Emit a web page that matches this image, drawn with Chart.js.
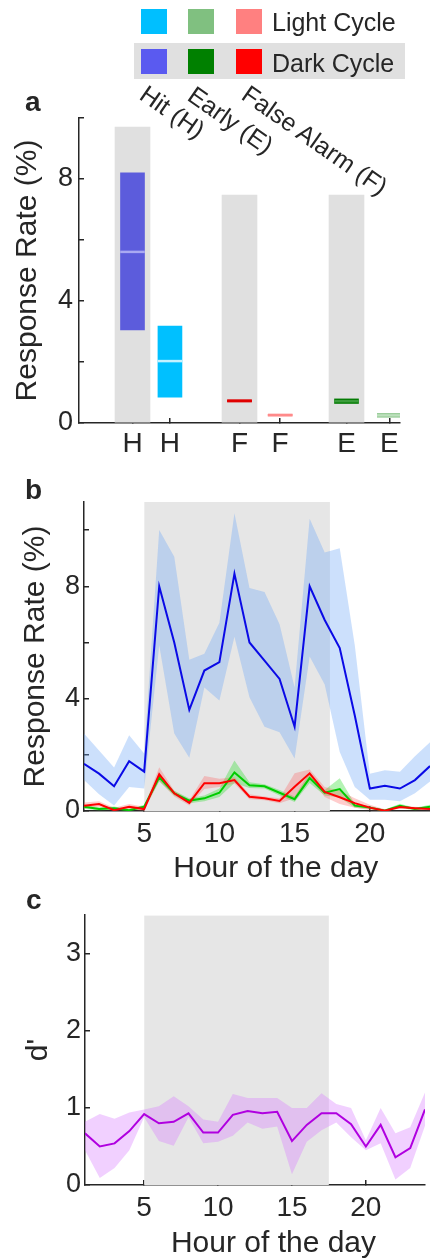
<!DOCTYPE html>
<html>
<head>
<meta charset="utf-8">
<script src="https://cdn.jsdelivr.net/npm/chart.js@4.4.1/dist/chart.umd.min.js"></script>
<style>
  body { margin: 0; width: 430px; height: 1259px; overflow: hidden; background: #fff; position: relative;
         font-family: "Liberation Sans", Arial, sans-serif; color: #262626; }
  canvas { position: absolute; left: 0; }
  .sq { position: absolute; width: 26px; height: 25px; }
  .lbl { position: absolute; font-size: 25px; line-height: 25px; white-space: nowrap; }
  .panel { position: absolute; font-weight: bold; font-size: 28px; line-height: 28px; }
  .rot { position: absolute; font-size: 25px; line-height: 25px; white-space: nowrap;
         transform-origin: 0 0; transform: rotate(35deg); }
</style>
</head>
<body>
<canvas id="ca" width="430" height="470" style="top:0"></canvas>
<canvas id="cb" width="430" height="420" style="top:470px"></canvas>
<canvas id="cc" width="430" height="369" style="top:890px"></canvas>

<!-- legend -->
<div style="position:absolute;left:134px;top:43px;width:271px;height:36px;background:#e0e0e0"></div>
<div class="sq" style="left:141px;top:9px;background:#00bfff"></div>
<div class="sq" style="left:188px;top:9px;background:#80c080"></div>
<div class="sq" style="left:236px;top:9px;background:#ff8080"></div>
<div class="lbl" style="left:272px;top:10px">Light Cycle</div>
<div class="sq" style="left:141px;top:49px;background:#5a5af0"></div>
<div class="sq" style="left:188px;top:49px;background:#008000"></div>
<div class="sq" style="left:236px;top:49px;background:#ff0000"></div>
<div class="lbl" style="left:272px;top:51px">Dark Cycle</div>

<!-- rotated category names -->
<div class="rot" style="left:150px;top:81px">Hit (H)</div>
<div class="rot" style="left:198px;top:82px">Early (E)</div>
<div class="rot" style="left:252px;top:81px">False Alarm (F)</div>

<!-- panel letters -->
<div class="panel" style="left:25px;top:88px">a</div>
<div class="panel" style="left:25px;top:476px">b</div>
<div class="panel" style="left:26px;top:886px">c</div>

<script>
// panel a : boxes (position on the x axis, low / high / median)
const boxPos = [5, 8.5, 15, 18.8, 25, 29];
const boxTickLabels = ['H', 'H', 'F', 'F', 'E', 'E'];
const boxLow = [3.05, 0.85, 0.69, 0.23, 0.64, 0.19];
const boxHigh = [8.2, 3.18, 0.76, 0.29, 0.79, 0.31];
const boxMedian = [5.61, 2.03, 0.725, 0.26, 0.715, 0.25];
const darkPos = [5, 15, 25];
const darkTop = [9.7, 7.47, 7.47];
const yTicksA = [0, 2, 4, 6, 8, 10];
const yLabelsA = ['0', '', '4', '', '8', ''];

// panel b : hourly response rates
const hours = [1, 2, 3, 4, 5, 6, 7, 8, 9, 10, 11, 12, 13, 14, 15, 16, 17, 18, 19, 20, 21, 22, 23, 24];
const hit = [1.68, 1.33, 0.88, 1.77, 1.4, 8.0, 6.0, 3.6, 5.0, 5.3, 8.45, 6.0, 5.35, 4.7, 3.0, 8.0, 6.8, 5.8, 3.4, 0.8, 0.9, 0.8, 1.1, 1.6];
const hitUp = [2.76, 2.15, 1.55, 2.7, 2.05, 10.0, 9.05, 5.38, 5.6, 6.7, 10.6, 7.94, 7.8, 6.65, 4.4, 10.4, 9.2, 9.35, 5.9, 1.33, 1.45, 1.4, 1.95, 2.45];
const hitLo = [1.1, 0.6, 0.2, 0.85, 0.8, 5.9, 2.76, 1.9, 4.4, 3.93, 6.2, 4.05, 3.0, 2.8, 1.87, 5.5, 4.5, 2.1, 0.85, 0.4, 0.4, 0.35, 0.63, 1.05];
const fa = [0.19, 0.25, 0.03, 0.15, 0.07, 1.31, 0.63, 0.29, 0.99, 0.99, 1.1, 0.51, 0.45, 0.36, 0.86, 1.34, 0.68, 0.49, 0.28, 0.12, 0.01, 0.14, 0.1, 0.07];
const faUp = [0.3, 0.35, 0.12, 0.25, 0.15, 1.56, 0.72, 0.38, 1.25, 1.15, 1.2, 0.6, 0.52, 0.45, 1.34, 1.48, 0.85, 0.72, 0.45, 0.22, 0.06, 0.2, 0.15, 0.12];
const faLo = [0.08, 0.15, 0, 0.07, 0, 1.08, 0.52, 0.2, 0.78, 0.85, 0.98, 0.42, 0.38, 0.28, 0.45, 1.18, 0.5, 0.25, 0.12, 0.04, 0, 0.08, 0.05, 0.03];
const early = [0.15, 0.07, 0.1, 0.03, 0.15, 1.2, 0.63, 0.37, 0.45, 0.65, 1.37, 0.92, 0.88, 0.65, 0.42, 1.17, 0.65, 0.78, 0.19, 0.12, 0.01, 0.19, 0.07, 0.15];
const earlyUp = [0.22, 0.13, 0.16, 0.08, 0.22, 1.32, 0.72, 0.45, 0.55, 0.8, 1.8, 1.02, 0.95, 0.75, 0.52, 1.36, 0.75, 1.17, 0.26, 0.18, 0.05, 0.26, 0.12, 0.22];
const earlyLo = [0.08, 0.02, 0.05, 0, 0.08, 1.05, 0.55, 0.28, 0.35, 0.5, 1.0, 0.82, 0.8, 0.55, 0.32, 1.0, 0.55, 0.48, 0.12, 0.06, 0, 0.12, 0.03, 0.08];
const yTicksB = [0, 2, 4, 6, 8, 10];
const yLabelsB = ['0', '', '4', '', '8', ''];

// panel c : d'
const dprime = [0.67, 0.5, 0.54, 0.7, 0.92, 0.8, 0.82, 0.93, 0.68, 0.68, 0.91, 0.96, 0.93, 0.95, 0.57, 0.78, 0.93, 0.93, 0.79, 0.5, 0.78, 0.36, 0.48, 0.98];
const dprimeUp = [0.82, 0.92, 0.86, 0.94, 0.98, 1.02, 1.15, 1.02, 0.85, 0.82, 1.18, 1.13, 1.13, 1.13, 1.0, 1.0, 1.19, 1.05, 1.0, 0.58, 1.0, 0.67, 0.75, 1.2];
const dprimeLo = [0.45, 0.09, 0.22, 0.45, 0.88, 0.57, 0.51, 0.88, 0.54, 0.56, 0.64, 0.81, 0.73, 0.76, 0.14, 0.56, 0.71, 0.81, 0.62, 0.45, 0.54, 0.07, 0.22, 0.77];
const yTicksC = [0, 1, 2, 3];
const yLabelsC = ['0', '1', '2', '3'];

const xTicksHours = [5, 10, 15, 20];
const darkPhaseB = [5, 17.35];
const darkPhaseC = [5, 17.5];

const ink = '#262626';
const fontFamily = '"Liberation Sans", Arial, sans-serif';
Chart.defaults.font.family = fontFamily;
Chart.defaults.color = ink;

function inward() {
    return { drawOnChartArea: false, drawTicks: true, tickLength: -5, color: ink, lineWidth: 1.5, offset: false };
}
function pts(vals) {
    return vals.map((v, i) => ({ x: hours[i], y: v }));
}
function shade(span, top) {
    return {
        data: span.map(x => ({ x: x, y: top })),
        fill: 'origin', backgroundColor: '#e6e6e6', borderWidth: 0, pointRadius: 0, order: 20
    };
}

// x title drawn at a value of the x scale
const hourTitle = {
    id: 'hourTitle',
    afterDraw(chart, args, opts) {
        const ctx = chart.ctx;
        const x = chart.scales.x;
        ctx.save();
        ctx.font = '30px ' + fontFamily;
        ctx.fillStyle = ink;
        ctx.textAlign = 'center';
        ctx.textBaseline = 'alphabetic';
        ctx.fillText(opts.text, x.getPixelForValue(opts.at), x.bottom - opts.lift);
        ctx.restore();
    }
};

// ---------- panel a ----------
new Chart(document.getElementById('ca'), {
    type: 'bar',
    data: {
        datasets: [
            {
                data: boxPos.map((x, i) => ({ x: x, y: [boxMedian[i] - 0.03, boxMedian[i] + 0.03] })),
                backgroundColor: ['#a9a9f2', '#c4f1ff', '#e00000', '#ff8a8a', '#3c9c3c', '#bde0bd'],
                barThickness: 24, order: 0
            },
            {
                data: boxPos.map((x, i) => ({ x: x, y: [boxLow[i], boxHigh[i]] })),
                backgroundColor: ['#5c5cdc', '#00c0ff', '#e00000', '#ff8a8a', '#007a00', '#80c080'],
                barThickness: 24, order: 1
            },
            {
                data: darkPos.map((x, i) => ({ x: x, y: [0, darkTop[i]] })),
                backgroundColor: '#e0e0e0',
                barThickness: 35, order: 2
            }
        ]
    },
    options: {
        responsive: false, animation: false, events: [],
        datasets: { bar: { grouped: false, borderWidth: 0 } },
        layout: { padding: { top: 118, right: 30, left: 0, bottom: 0 } },
        plugins: { legend: { display: false }, tooltip: { enabled: false } },
        scales: {
            x: {
                type: 'linear', min: 0, max: 30, offset: false,
                afterBuildTicks: s => { s.ticks = boxPos.map(v => ({ value: v })); },
                afterFit: s => { s.height = 47; },
                ticks: { autoSkip: false, maxRotation: 0, padding: 9, font: { size: 28 },
                         callback: (v, i) => boxTickLabels[i] },
                grid: inward(),
                border: { color: ink, width: 1.5 }
            },
            y: {
                min: 0, max: 10,
                afterBuildTicks: s => { s.ticks = yTicksA.map(v => ({ value: v })); },
                afterFit: s => { s.width = 79; },
                ticks: { autoSkip: false, padding: 11, font: { size: 27 }, callback: (v, i) => yLabelsA[i] },
                grid: inward(),
                border: { color: ink, width: 1.5 },
                title: { display: true, text: 'Response Rate (%)', font: { size: 30 }, padding: { top: 10, bottom: 0 } }
            }
        }
    }
});

// ---------- panel b ----------
new Chart(document.getElementById('cb'), {
    type: 'line',
    data: {
        datasets: [
            { data: pts(hit), borderColor: '#0a0ae6', borderWidth: 2, pointRadius: 0, fill: false, order: 0 },
            { data: pts(fa), borderColor: '#ff0000', borderWidth: 2, pointRadius: 0, fill: false, order: 1 },
            { data: pts(early), borderColor: '#00cc00', borderWidth: 2, pointRadius: 0, fill: false, order: 2 },
            { data: pts(faLo), borderWidth: 0, pointRadius: 0, fill: false, order: 10 },
            { data: pts(faUp), borderWidth: 0, pointRadius: 0, fill: 3, backgroundColor: 'rgba(255,90,90,0.3)', order: 3 },
            { data: pts(earlyLo), borderWidth: 0, pointRadius: 0, fill: false, order: 10 },
            { data: pts(earlyUp), borderWidth: 0, pointRadius: 0, fill: 5, backgroundColor: 'rgba(40,220,40,0.35)', order: 4 },
            { data: pts(hitLo), borderWidth: 0, pointRadius: 0, fill: false, order: 10 },
            { data: pts(hitUp), borderWidth: 0, pointRadius: 0, fill: 7, backgroundColor: 'rgba(110,165,245,0.35)', order: 5 },
            shade(darkPhaseB, 11)
        ]
    },
    options: {
        responsive: false, animation: false, events: [],
        layout: { padding: { top: 32, right: 0, left: 0, bottom: 0 } },
        elements: { line: { tension: 0 } },
        plugins: { legend: { display: false }, tooltip: { enabled: false },
                   hourTitle: { text: 'Hour of the day', at: 13.75, lift: 13.5 } },
        scales: {
            x: {
                type: 'linear', min: 1, max: 24,
                afterBuildTicks: s => { s.ticks = xTicksHours.map(v => ({ value: v })); },
                afterFit: s => { s.height = 79; },
                ticks: { autoSkip: false, maxRotation: 0, padding: 11, font: { size: 28 } },
                grid: inward(),
                border: { color: ink, width: 1.5 }
            },
            y: {
                min: 0, max: 11,
                afterBuildTicks: s => { s.ticks = yTicksB.map(v => ({ value: v })); },
                afterFit: s => { s.width = 84; },
                ticks: { autoSkip: false, padding: 9, font: { size: 27 }, callback: (v, i) => yLabelsB[i] },
                grid: inward(),
                border: { color: ink, width: 1.5 },
                title: { display: true, text: 'Response Rate (%)', font: { size: 30 }, padding: { top: 18, bottom: 0 } }
            }
        }
    },
    plugins: [hourTitle]
});

// ---------- panel c ----------
new Chart(document.getElementById('cc'), {
    type: 'line',
    data: {
        datasets: [
            { data: pts(dprime), borderColor: '#b000e0', borderWidth: 2, pointRadius: 0, fill: false, order: 0 },
            { data: pts(dprimeLo), borderWidth: 0, pointRadius: 0, fill: false, order: 10 },
            { data: pts(dprimeUp), borderWidth: 0, pointRadius: 0, fill: 1, backgroundColor: 'rgba(215,120,255,0.35)', order: 1 },
            shade(darkPhaseC, 3.5)
        ]
    },
    options: {
        responsive: false, animation: false, events: [],
        layout: { padding: { top: 22, right: 5, left: 0, bottom: 0 } },
        elements: { line: { tension: 0 } },
        plugins: { legend: { display: false }, tooltip: { enabled: false },
                   hourTitle: { text: 'Hour of the day', at: 13.75, lift: 7.5 } },
        scales: {
            x: {
                type: 'linear', min: 1, max: 24,
                afterBuildTicks: s => { s.ticks = xTicksHours.map(v => ({ value: v })); },
                afterFit: s => { s.height = 74; },
                ticks: { autoSkip: false, maxRotation: 0, padding: 11, font: { size: 28 } },
                grid: inward(),
                border: { color: ink, width: 1.5 }
            },
            y: {
                min: 0, max: 3.5,
                afterBuildTicks: s => { s.ticks = yTicksC.map(v => ({ value: v })); },
                afterFit: s => { s.width = 85; },
                ticks: { autoSkip: false, padding: 9, font: { size: 27 }, callback: (v, i) => yLabelsC[i] },
                grid: inward(),
                border: { color: ink, width: 1.5 },
                title: { display: true, text: "d'", font: { size: 30 }, padding: { top: 21, bottom: 0 } }
            }
        }
    },
    plugins: [hourTitle]
});
</script>
</body>
</html>
